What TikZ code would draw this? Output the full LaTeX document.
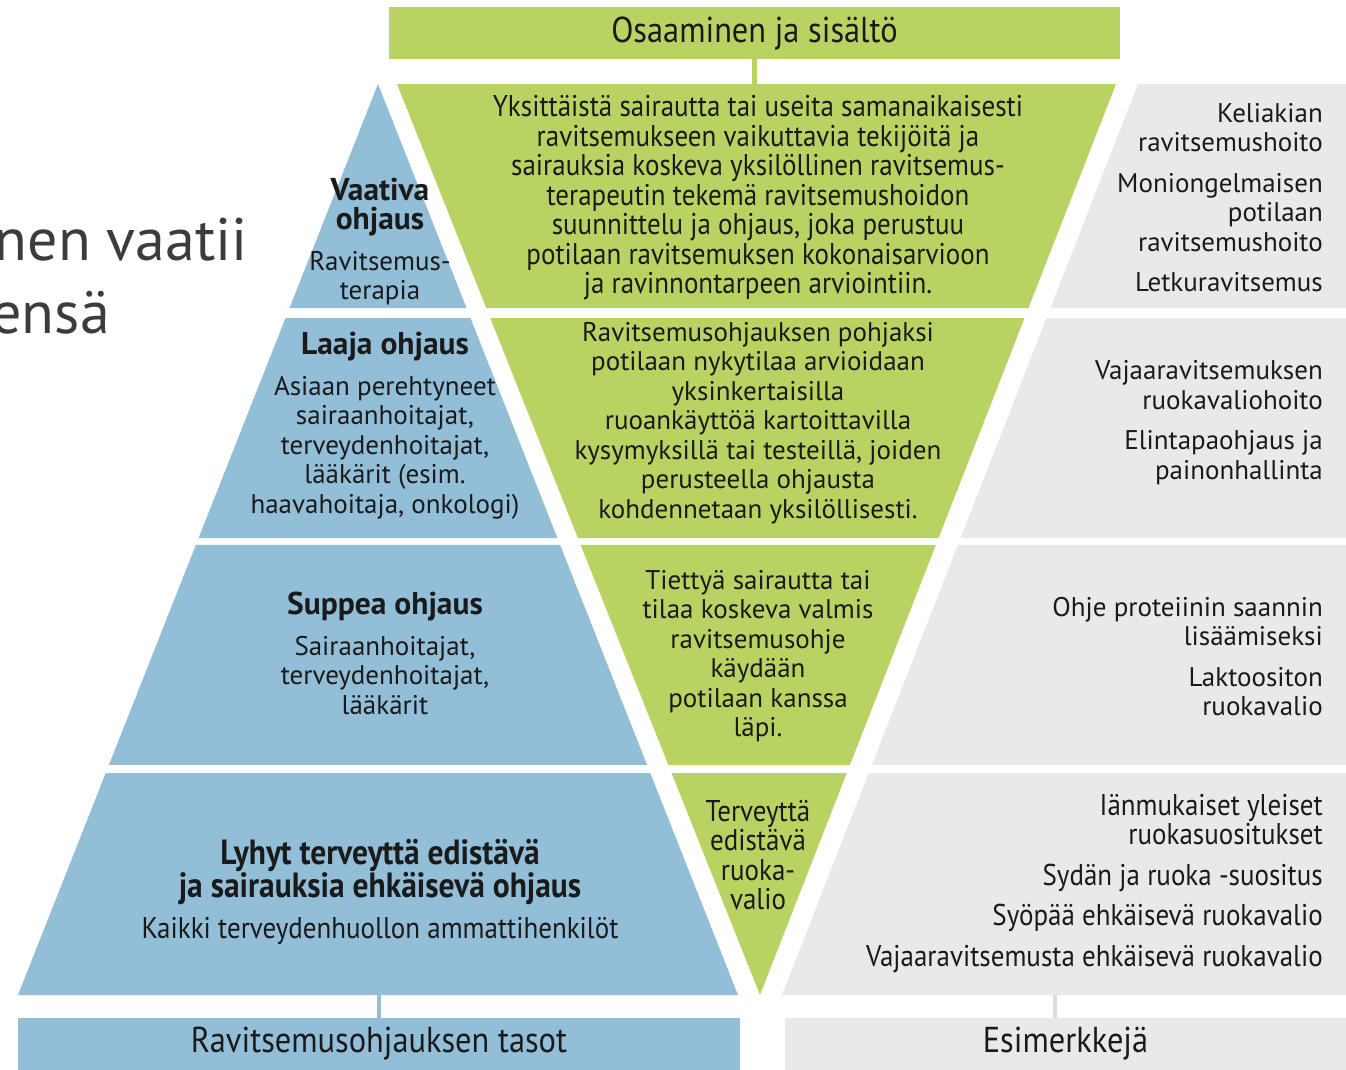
\documentclass[tikz,border=0pt]{standalone}
\usepackage{fontspec}
\setmainfont{PT Sans}
\newfontfamily\narrowfont[FakeStretch=0.9]{PT Sans}
\usetikzlibrary{calc}
\definecolor{lvlblue}{HTML}{92BED7}
\definecolor{lvlgreen}{HTML}{B9D362}
\definecolor{lvlgrey}{HTML}{E8E9E8}
\definecolor{stemgrey}{HTML}{DCDDDC}
\definecolor{ink}{HTML}{1A1A1A}
\definecolor{slide}{HTML}{3C3C3C}
\newcommand{\lvltitle}[1]{{\fontsize{31.5}{29.5}\selectfont\bfseries #1}}
\newcommand{\lvlwide}[1]{{\fontsize{35}{29.5}\selectfont\bfseries #1}}

\begin{document}
\begin{tikzpicture}[x=1pt,y=-1pt,
    body/.style={text=ink,align=center,inner sep=0,font=\fontsize{27}{29.5}\selectfont},
    nbody/.style={body,font=\narrowfont\fontsize{30}{29.5}\selectfont},
    ex/.style={body,align=right,anchor=east},
    head/.style={text=ink,inner sep=0,font=\narrowfont\fontsize{36}{36}\selectfont},
    stem/.style={line width=4.5pt}]
  \useasboundingbox (0,0) rectangle (1346,1069);
  \clip (0,0) rectangle (1346,1069);

  % corners of the three columns
  \coordinate (bA) at (378,84);  \coordinate (bL) at (18,995);  \coordinate (bR) at (738,995);
  \coordinate (gL) at (397,84);  \coordinate (gR) at (1116,84); \coordinate (gA) at (760,995);
  \coordinate (eL) at (1138,84); \coordinate (eB) at (782,995); \coordinate (eR) at (1346,0);

  \foreach \t/\b in {0/0.2459,0.2569/0.4984,0.5060/0.7475,0.7563/1}{
    \fill[lvlblue] ($(bA)!\t!(bL)$) -- ($(bA)!\b!(bL)$) -- ($(bA)!\b!(bR)$) -- ($(bA)!\t!(bR)$) -- cycle;
    \fill[lvlgreen] ($(gL)!\t!(gA)$) -- ($(gL)!\b!(gA)$) -- ($(gR)!\b!(gA)$) -- ($(gR)!\t!(gA)$) -- cycle;
    \coordinate (et) at ($(eL)!\t!(eB)$);
    \coordinate (eb) at ($(eL)!\b!(eB)$);
    \fill[lvlgrey] (et) -- (eb) -- (eb -| eR) -- (et -| eR) -- cycle;
  }

  % slide title behind the figure
  \node[anchor=base east,text=slide,inner sep=0,font=\fontsize{60}{73}\selectfont] (title1) at (248,260) {nen vaatii};
  \node[anchor=base east,text=slide,inner sep=0,font=\fontsize{60}{73}\selectfont] (title2) at (110,333) {ensä};

  % headers
  \node[head,fill=lvlgreen,minimum width=731,minimum height=52] (osaam) at (754.5,33) {Osaaminen ja sisältö};
  \node[head,fill=lvlblue,minimum width=722,minimum height=52] (tasot) at (379,1044) {Ravitsemusohjauksen tasot};
  \node[head,fill=lvlgrey,minimum width=561,minimum height=52] (esim) at (1065.5,1044) {Esimerkkejä};
  \coordinate (gtop) at (754.5,84);
  \coordinate (bbase) at (379,995);
  \coordinate (ebase) at (1055,995);
  \draw[stem,lvlgreen] (osaam.south) -- (gtop);
  \draw[stem,lvlblue] (bbase) -- (tasot.north);
  \draw[stem,stemgrey] (ebase) -- (ebase |- esim.north);

  % levels
  \node[body] (vaativa) at (380,241.5) {\lvltitle{Vaativa}\\\lvltitle{ohjaus}\\[11pt]Ravitsemus-\\terapia};
  \node[body] (laaja) at (385,426) {\lvltitle{Laaja ohjaus}\\[11pt]Asiaan perehtyneet\\sairaanhoitajat,\\terveydenhoitajat,\\lääkärit (esim.\\haavahoitaja, onkologi)};
  \node[body] (suppea) at (385,653.5) {\lvltitle{Suppea ohjaus}\\[11pt]Sairaanhoitajat,\\terveydenhoitajat,\\lääkärit};
  \node[nbody] (lyhyt) at (380,891.5) {\lvlwide{Lyhyt terveyttä edistävä}\\\lvlwide{ja sairauksia ehkäisevä ohjaus}\\[11pt]Kaikki terveydenhuollon ammattihenkilöt};

  % contents
  \node[nbody] (sis1) at (758,198) {Yksittäistä sairautta tai useita samanaikaisesti\\ravitsemukseen vaikuttavia tekijöitä ja\\sairauksia koskeva yksilöllinen ravitsemus-\\terapeutin tekemä ravitsemushoidon\\suunnittelu ja ohjaus, joka perustuu\\potilaan ravitsemuksen kokonaisarvioon\\ja ravinnontarpeen arviointiin.};
  \node[body] (sis2) at (758,423) {Ravitsemusohjauksen pohjaksi\\potilaan nykytilaa arvioidaan\\yksinkertaisilla\\ruoankäyttöä kartoittavilla\\kysymyksillä tai testeillä, joiden\\perusteella ohjausta\\kohdennetaan yksilöllisesti.};
  \node[body] (sis3) at (758,656) {Tiettyä sairautta tai\\tilaa koskeva valmis\\ravitsemusohje\\käydään\\potilaan kanssa\\läpi.};
  \node[nbody] (sis4) at (758,855) {Terveyttä\\edistävä\\ruoka-\\valio};

  % examples
  \node[ex] (esim1) at (1323,197.5) {Keliakian\\ravitsemushoito\\[11pt]Moniongelmaisen\\potilaan\\ravitsemushoito\\[11pt]Letkuravitsemus};
  \node[ex] (esim2) at (1323,422.5) {Vajaaravitsemuksen\\ruokavaliohoito\\[11pt]Elintapaohjaus ja\\painonhallinta};
  \node[ex] (esim3) at (1323,656.5) {Ohje proteiinin saannin\\lisäämiseksi\\[11pt]Laktoositon\\ruokavalio};
  \node[ex,nbody,align=right] (esim4) at (1323,883.5) {Iänmukaiset yleiset\\ruokasuositukset\\[11pt]Sydän ja ruoka -suositus\\[11pt]Syöpää ehkäisevä ruokavalio\\[11pt]Vajaaravitsemusta ehkäisevä ruokavalio};
\end{tikzpicture}
\end{document}
